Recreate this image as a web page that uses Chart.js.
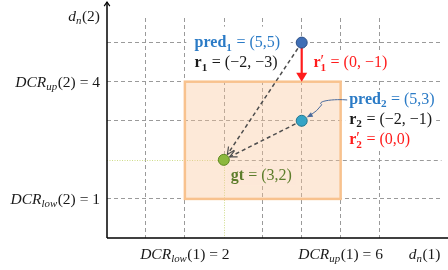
<!DOCTYPE html>
<html><head><meta charset="utf-8">
<script src="https://cdn.jsdelivr.net/npm/chart.js@4"></script>
<style>html,body{margin:0;padding:0;background:#fff}#c{display:block}</style>
</head><body>
<canvas id="c" width="448" height="270"></canvas>
<script>
// ---- data ----
const pointNames = ['pred1', 'pred2', 'gt'];
const pointX = [5, 5, 3];
const pointY = [5, 3, 2];
const boxX = [2, 6];          // DCR_low(1), DCR_up(1)
const boxY = [1, 4];          // DCR_low(2), DCR_up(2)
const xMax = 8.59;
const yMax = 5.63;
const xTickValues = [2, 6];
const yTickValues = [4, 1];
const correctedTarget = [5, 4]; // pred1 + r1'

// ---- styles ----
const F = '"Liberation Serif","DejaVu Serif",serif';
const FS = 16;
const FT = 15.5;
const BLUE = '#2b7bc6', RED = '#ff1c1c', GREEN = '#5d7d2b', BLACK = '#1a1a1a';
const pointFill = ['#3f6fb6', '#35a4c6', '#8cb83e'];
const pointStroke = ['#2c4f86', '#23778f', '#5f8a22'];

// rich text labels
const S = (t, o = {}) => Object.assign({ t }, o);
const yLabels = [
  [S('DCR', { i: 1, sub: 'up', si: 1 }), S('(2) = 4')],
  [S('DCR', { i: 1, sub: 'low', si: 1 }), S('(2) = 1')]
];
const xLabels = [
  [S('DCR', { i: 1, sub: 'low', si: 1 }), S('(1) = 2')],
  [S('DCR', { i: 1, sub: 'up', si: 1 }), S('(1) = 6')]
];
const yAxisName = [S('d', { i: 1, sub: 'n', si: 1 }), S('(2)')];
const xAxisName = [S('d', { i: 1, sub: 'n', si: 1 }), S('(1)')];
const txtPred1 = [S('pred', { b: 1, sub: '1', sb: 1 }), S(' = (5,5)')];
const txtR1 = [S('r', { b: 1, sub: '1', sb: 1 }), S(' = (\u22122, \u22123)')];
const txtR1p = [S('r', { b: 1, sup: '\u2032', sub: '1', sb: 1 }), S(' = (0, \u22121)')];
const txtPred2 = [S('pred', { b: 1, sub: '2', sb: 1 }), S(' = (5,3)')];
const txtR2 = [S('r', { b: 1, sub: '2', sb: 1 }), S(' = (\u22122, \u22121)')];
const txtR2p = [S('r', { b: 1, sup: '\u2032', sub: '2', sb: 1 }), S(' = (0,0)')];
const txtGt = [S('gt', { b: 1 }), S(' = (3,2)')];

function fnt(i, b, size) { return (i ? 'italic ' : '') + (b ? 'bold ' : '') + size + 'px ' + F; }
function richWidth(ctx, segs, size) {
  let w = 0;
  for (const s of segs) {
    ctx.font = fnt(s.i, s.b, size); w += ctx.measureText(s.t).width;
    let a = 0, b = 0;
    if (s.sup) { ctx.font = fnt(0, 0, size); a = ctx.measureText(s.sup).width; }
    if (s.sub) { ctx.font = fnt(s.si, s.sb, size * 0.7); b = ctx.measureText(s.sub).width; }
    w += Math.max(a, b) + (s.sub || s.sup ? 0.5 : 0);
  }
  return w;
}
function drawRich(ctx, segs, x, y, align, color, size = FS) {
  const w = richWidth(ctx, segs, size);
  let cx = align === 'right' ? x - w : align === 'center' ? x - w / 2 : x;
  ctx.save(); ctx.fillStyle = color; ctx.textBaseline = 'alphabetic'; ctx.textAlign = 'left';
  for (const s of segs) {
    ctx.font = fnt(s.i, s.b, size); ctx.fillText(s.t, cx, y); cx += ctx.measureText(s.t).width;
    let a = 0, b = 0;
    if (s.sup) { ctx.font = fnt(0, 0, size); ctx.fillText(s.sup, cx, y - size * 0.08); a = ctx.measureText(s.sup).width; }
    if (s.sub) { ctx.font = fnt(s.si, s.sb, size * 0.7); ctx.fillText(s.sub, cx, y + size * 0.22); b = ctx.measureText(s.sub).width; }
    cx += Math.max(a, b) + (s.sub || s.sup ? 0.5 : 0);
  }
  ctx.restore();
  return w;
}
function bgRect(ctx, x, y, w, h, color) { ctx.save(); ctx.fillStyle = color; ctx.fillRect(x, y, w, h); ctx.restore(); }

function gridColor(axis) {
  return (c) => {
    const v = c.tick && c.tick.value;
    if (!Number.isInteger(v) || v === 0) return 'rgba(0,0,0,0)';
    if (axis === 'x' && v === pointX[2]) return 'rgba(0,0,0,0)';
    if (axis === 'y' && v === pointY[2]) return 'rgba(0,0,0,0)';
    return '#9a9a9a';
  };
}

function arrowHeadOpen(ctx, x, y, ang, len, spread) {
  ctx.beginPath();
  ctx.moveTo(x - len * Math.cos(ang - spread), y - len * Math.sin(ang - spread));
  ctx.lineTo(x, y);
  ctx.lineTo(x - len * Math.cos(ang + spread), y - len * Math.sin(ang + spread));
  ctx.stroke();
}
function arrowHeadFilled(ctx, x, y, ang, len, half) {
  ctx.beginPath();
  ctx.moveTo(x, y);
  ctx.lineTo(x - len * Math.cos(ang) + half * Math.sin(ang), y - len * Math.sin(ang) - half * Math.cos(ang));
  ctx.lineTo(x - len * Math.cos(ang) - half * Math.sin(ang), y - len * Math.sin(ang) + half * Math.cos(ang));
  ctx.closePath(); ctx.fill();
}

const deco = {
  id: 'deco',
  beforeDatasetsDraw(chart) {
    const { ctx, chartArea: ca } = chart;
    const xs = chart.scales.x, ys = chart.scales.y;
    const px = v => xs.getPixelForValue(v), py = v => ys.getPixelForValue(v);
    const gx = px(pointX[2]), gy = py(pointY[2]);
    // custom grid lines through gt
    ctx.save(); ctx.lineWidth = 1;
    ctx.strokeStyle = '#9a9a9a'; ctx.setLineDash([4, 3]);
    ctx.beginPath(); ctx.moveTo(Math.round(gx) + 0.5, ca.top); ctx.lineTo(Math.round(gx) + 0.5, gy); ctx.stroke();
    ctx.beginPath(); ctx.moveTo(gx, Math.round(gy) + 0.5); ctx.lineTo(ca.right, Math.round(gy) + 0.5); ctx.stroke();
    ctx.strokeStyle = '#cfdc8a'; ctx.setLineDash([1, 1.5]);
    ctx.beginPath(); ctx.moveTo(ca.left, Math.round(gy) + 0.5); ctx.lineTo(gx, Math.round(gy) + 0.5); ctx.stroke();
    ctx.beginPath(); ctx.moveTo(Math.round(gx) + 0.5, gy); ctx.lineTo(Math.round(gx) + 0.5, ca.bottom); ctx.stroke();
    ctx.restore();
    // box
    const bx0 = px(boxX[0]), bx1 = px(boxX[1]), by0 = py(boxY[1]), by1 = py(boxY[0]);
    ctx.save();
    ctx.fillStyle = 'rgba(249,196,152,0.38)';
    ctx.fillRect(bx0, by0, bx1 - bx0, by1 - by0);
    ctx.strokeStyle = '#f8c28e'; ctx.lineWidth = 2.5;
    ctx.strokeRect(bx0, by0, bx1 - bx0, by1 - by0);
    ctx.restore();
    // label backgrounds
    const p1x = px(pointX[0]), p1y = py(pointY[0]);
    const p2x = px(pointX[1]), p2y = py(pointY[1]);
    const L2 = px(5.3), L3 = px(6.22);
    bgRect(ctx, px(2) + 1.5, p1y - 16, px(4.72) - px(2) - 1.5, 52, '#fff');
    bgRect(ctx, L2 - 4, py(4.37) - 15, richWidth(ctx, txtR1p, FS) + 8, 26, '#fff');
    bgRect(ctx, L3 - 4, py(3.43) - 14, richWidth(ctx, txtPred2, FS) + 8, 20, '#fff');
    bgRect(ctx, L3 - 4, py(2.92) - 14, richWidth(ctx, txtR2, FS) + 8, 20, '#fff');
    bgRect(ctx, L3 - 4, py(2.40) - 14, richWidth(ctx, txtR2p, FS) + 8, 20, '#fff');
    bgRect(ctx, px(3.18) - 4, py(1.48) - 14, richWidth(ctx, txtGt, FS) + 8, 19, '#fde8d8');
    // dashed arrows to gt
    ctx.save();
    ctx.strokeStyle = '#4d4d4d'; ctx.lineWidth = 1.5;
    for (const [sx, sy] of [[p1x, p1y], [p2x, p2y]]) {
      const ang = Math.atan2(gy - sy, gx - sx);
      const ex = gx - Math.cos(ang) * 6.5, ey = gy - Math.sin(ang) * 6.5;
      ctx.setLineDash([4, 3]);
      ctx.beginPath(); ctx.moveTo(sx, sy); ctx.lineTo(ex, ey); ctx.stroke();
      ctx.setLineDash([]); ctx.lineWidth = 1.2;
      arrowHeadOpen(ctx, ex, ey, ang, 8, 0.45);
      ctx.lineWidth = 1.5;
    }
    ctx.restore();
    // red arrow pred1 -> corrected
    const tx = px(correctedTarget[0]), ty = py(correctedTarget[1]);
    ctx.save();
    ctx.strokeStyle = RED; ctx.fillStyle = RED; ctx.lineWidth = 2.2;
    ctx.beginPath(); ctx.moveTo(p1x, p1y); ctx.lineTo(tx, ty - 7); ctx.stroke();
    arrowHeadFilled(ctx, tx, ty, Math.PI / 2, 9, 5.5);
    ctx.restore();
    // curvy pointer to pred2
    ctx.save();
    ctx.strokeStyle = '#4b6b9c'; ctx.fillStyle = '#4b6b9c'; ctx.lineWidth = 1;
    ctx.beginPath();
    ctx.moveTo(L3 - 2, py(3.43) - 4);
    ctx.bezierCurveTo(p2x + 34, p2y - 22, p2x + 14, p2y - 20, p2x + 20, p2y - 16);
    ctx.quadraticCurveTo(p2x + 16, p2y - 10, p2x + 8, p2y - 5);
    ctx.stroke();
    arrowHeadFilled(ctx, p2x + 5, p2y - 3.5, Math.atan2(4, -8), 6, 2.5);
    ctx.restore();
  },
  afterDatasetsDraw(chart) {
    const { ctx, chartArea: ca } = chart;
    const xs = chart.scales.x, ys = chart.scales.y;
    const px = v => xs.getPixelForValue(v), py = v => ys.getPixelForValue(v);
    // annotation texts
    drawRich(ctx, txtPred1, px(2.25), py(4.88), 'left', BLUE);
    drawRich(ctx, txtR1, px(2.25), py(4.37), 'left', BLACK);
    drawRich(ctx, txtR1p, px(5.3), py(4.37), 'left', RED);
    drawRich(ctx, txtPred2, px(6.22), py(3.43), 'left', BLUE);
    drawRich(ctx, txtR2, px(6.22), py(2.92), 'left', BLACK);
    drawRich(ctx, txtR2p, px(6.22), py(2.40), 'left', RED);
    drawRich(ctx, txtGt, px(3.18), py(1.48), 'left', GREEN);
    // tick labels
    yTickValues.forEach((v, i) => drawRich(ctx, yLabels[i], ca.left - 7, py(v) + 5, 'right', BLACK, FT));
    xTickValues.forEach((v, i) => drawRich(ctx, xLabels[i], px(v), ca.bottom + 21, 'center', BLACK, FT));
    drawRich(ctx, yAxisName, ca.left - 7, ca.top + 3, 'right', BLACK, FT);
    drawRich(ctx, xAxisName, px(7.75), ca.bottom + 21, 'left', BLACK, FT);
    // axes with arrows
    ctx.save();
    ctx.strokeStyle = '#000'; ctx.lineWidth = 1.5;
    ctx.beginPath(); ctx.moveTo(ca.left, ca.bottom); ctx.lineTo(ca.left, 2); ctx.stroke();
    ctx.beginPath(); ctx.moveTo(ca.left, ca.bottom); ctx.lineTo(448, ca.bottom); ctx.stroke();
    ctx.lineWidth = 1.2;
    arrowHeadOpen(ctx, ca.left, 2, -Math.PI / 2, 5, 0.6);
    ctx.restore();
  }
};

new Chart(document.getElementById('c').getContext('2d'), {
  type: 'scatter',
  data: {
    datasets: [{
      label: 'points',
      data: pointX.map((x, i) => ({ x, y: pointY[i] })),
      pointRadius: 5.5, pointHoverRadius: 5.5,
      pointBackgroundColor: pointFill, pointBorderColor: pointStroke, pointBorderWidth: 1
    }]
  },
  options: {
    responsive: false, animation: false, events: [],
    layout: { padding: { left: 107, right: 0, top: 18, bottom: 32 } },
    plugins: { legend: { display: false }, tooltip: { enabled: false } },
    scales: {
      x: { type: 'linear', min: 0, max: xMax, ticks: { display: false, stepSize: 1 },
           border: { display: false, dash: [4, 3] }, grid: { drawTicks: false, color: gridColor('x'), lineWidth: 1 } },
      y: { type: 'linear', min: 0, max: yMax, ticks: { display: false, stepSize: 1 },
           border: { display: false, dash: [4, 3] }, grid: { drawTicks: false, color: gridColor('y'), lineWidth: 1 } }
    }
  },
  plugins: [deco]
});
</script>
</body></html>
